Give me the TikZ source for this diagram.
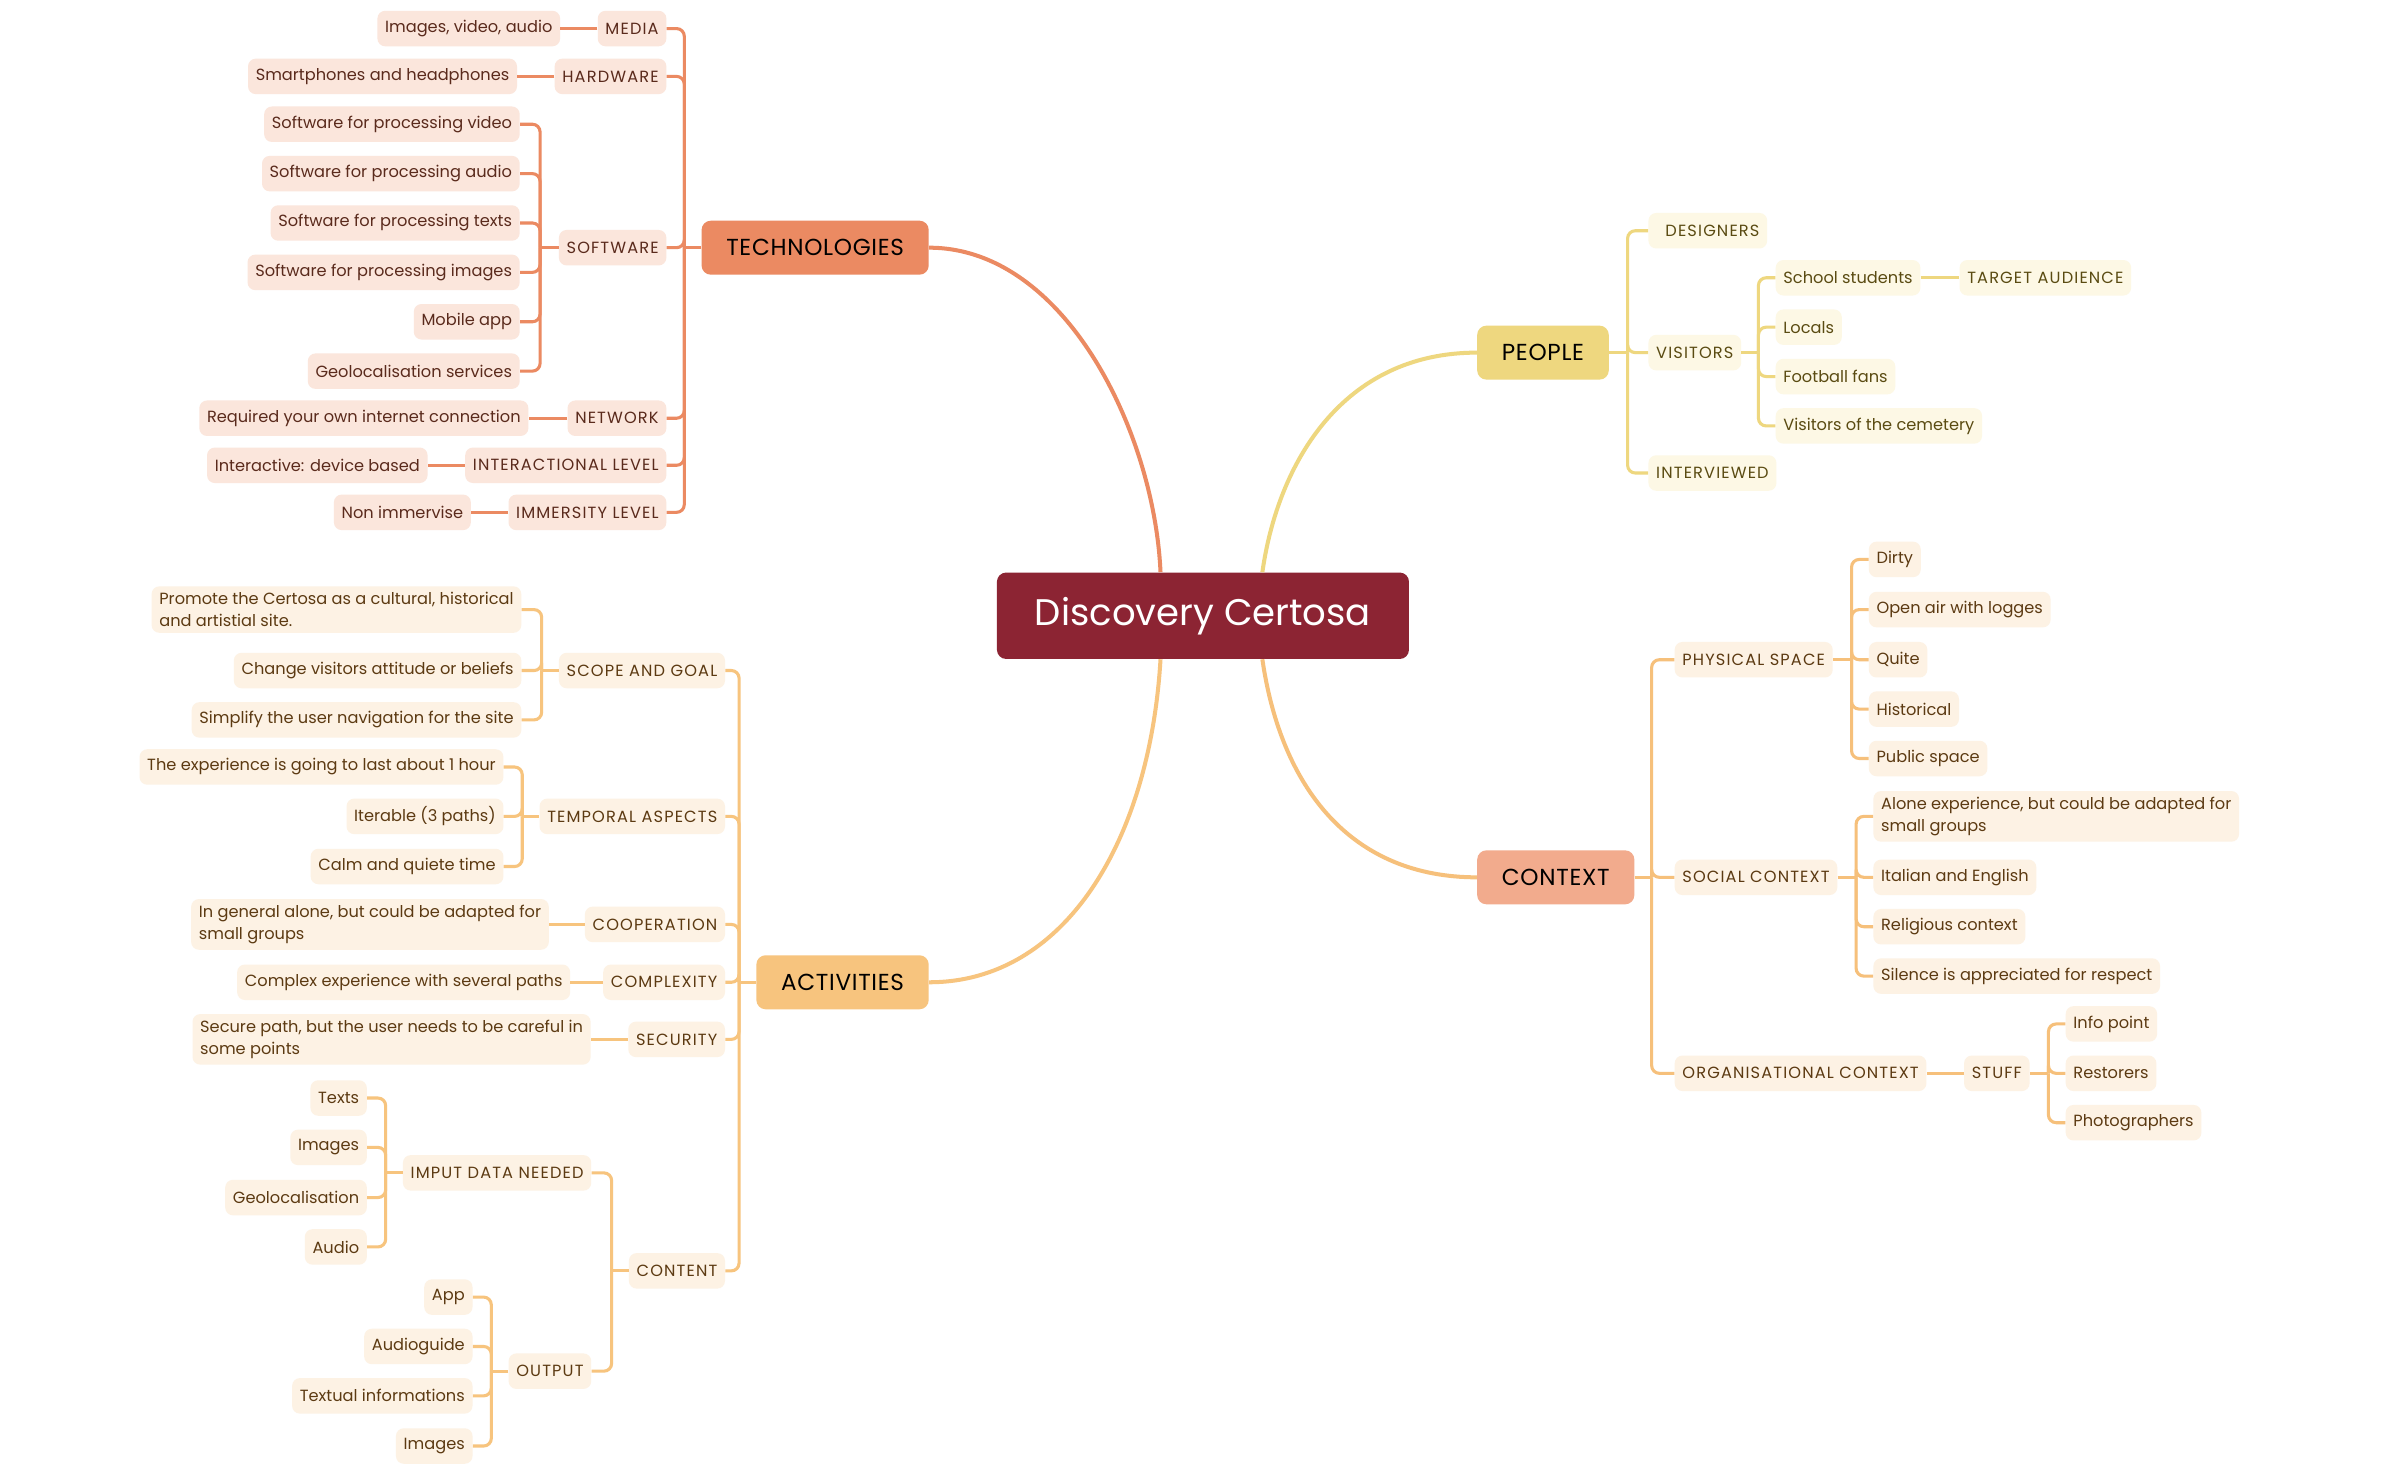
\documentclass[tikz,border=0pt]{standalone}
\usepackage{fontspec}
\setmainfont{Poppins}
\newfontfamily\capfont[LetterSpace=7]{Poppins}
\newfontfamily\labelfont[LetterSpace=3]{Poppins}
\usetikzlibrary{positioning}
\definecolor{centerc}{HTML}{8C2433}
\definecolor{techc}{HTML}{EB8A62}
\definecolor{techbg}{HTML}{FBE6DC}
\definecolor{techtx}{HTML}{5A2A1C}
\definecolor{peoplec}{HTML}{EED77F}
\definecolor{peoplebg}{HTML}{FDF8E5}
\definecolor{peopletx}{HTML}{5A4B12}
\definecolor{contextc}{HTML}{F2AB8D}
\definecolor{ctxline}{HTML}{F6C07B}
\definecolor{ctxbg}{HTML}{FDF2E4}
\definecolor{ctxtx}{HTML}{5C3A12}
\definecolor{actc}{HTML}{F7C47E}

\begin{document}
\begin{tikzpicture}[x=1pt,y=-1pt,
  box/.style={rounded corners=5pt, inner xsep=5pt, inner ysep=0pt, minimum height=23pt, align=left, font=\fontsize{10.5}{14}\selectfont},
  capstext/.style={font=\capfont\fontsize{10.5}{14}\selectfont},
  twoline/.style={inner ysep=4pt},
  main/.style={rounded corners=6pt, inner xsep=16pt, minimum height=35pt, font=\labelfont\fontsize{15}{18}\selectfont},
  tbox/.style={box, fill=techbg, text=techtx},
  pbox/.style={box, fill=peoplebg, text=peopletx},
  cbox/.style={box, fill=ctxbg, text=ctxtx},
  tcat/.style={tbox, capstext},
  pcat/.style={pbox, capstext},
  ccat/.style={cbox, capstext},
  tline/.style={draw=techc, line width=2pt, rounded corners=5pt},
  pline/.style={draw=peoplec, line width=2pt, rounded corners=5pt},
  cline/.style={draw=ctxline, line width=2pt, rounded corners=5pt},
  aline/.style={draw=actc, line width=2pt, rounded corners=5pt},
  curve/.style={line width=2.6pt}]
\fill[white] (0,0) rectangle (1550,955.2);
\useasboundingbox (0,0) rectangle (1550,955.2);

\node[fill=centerc, text=white, rounded corners=6pt, minimum width=267pt, minimum height=56pt, font=\fontsize{24}{28}\selectfont] (dc) at (779.5,399) {Discovery Certosa};
\node[main, fill=techc, anchor=east] (tech) at (602,160.5) {TECHNOLOGIES};
\node[main, fill=peoplec, anchor=west] (people) at (957,228.5) {PEOPLE};
\node[main, fill=contextc, anchor=west] (context) at (957,568.5) {CONTEXT};
\node[main, fill=actc, anchor=east] (activities) at (602,636.5) {ACTIVITIES};

\draw[techc, curve] (tech.east) .. controls (690,160.5) and (748,280) .. ([xshift=-27.5pt]dc.north);
\draw[peoplec, curve] ([xshift=38.5pt]dc.north) .. controls (828,300) and (870,228.5) .. (people.west);
\draw[ctxline, curve] ([xshift=38.5pt]dc.south) .. controls (830,510) and (875,568.5) .. (context.west);
\draw[actc, curve] ([xshift=-27.5pt]dc.south) .. controls (745,545) and (690,636.5) .. (activities.east);

% technologies
\node[tcat, anchor=east] (media) at (432,18.5) {MEDIA};
\node[tcat, anchor=east] (hardware) at (432,49.5) {HARDWARE};
\node[tcat, anchor=east] (software) at (432,160.5) {SOFTWARE};
\node[tcat, anchor=east] (network) at (432,271) {NETWORK};
\node[tcat, anchor=east] (interaction) at (432,301.5) {INTERACTIONAL LEVEL};
\node[tcat, anchor=east] (immersity) at (432,332) {IMMERSITY LEVEL};
\node[tbox, left=24pt of media] (media1) {Images, video, audio};
\node[tbox, left=24pt of hardware] (hardware1) {Smartphones and headphones};
\foreach \t/\d [count=\i] in {Software for processing video/80, Software for processing audio/48, Software for processing texts/16, Software for processing images/-16, Mobile app/-48, Geolocalisation services/-80}
  \node[tbox, left=25pt of software, yshift=\d pt] (soft\i) {\t};
\node[tbox, left=25pt of network] (network1) {Required your own internet connection};
\node[tbox, left=24pt of interaction] (interaction1) {Interactive: device based};
\node[tbox, left=24pt of immersity] (immersity1) {Non immervise};

\draw[tline] (tech.west) -- ++(-11,0) coordinate (ttrunk);
\foreach \n in {media,hardware,software,network,interaction,immersity}
  \draw[tline] (\n.east) -| (ttrunk);
\draw[tline] (software.west) -- ++(-12,0) coordinate (strunk);
\foreach \i in {1,...,6}
  \draw[tline] (soft\i.east) -| (strunk);
\foreach \n in {media,hardware,network,interaction,immersity}
  \draw[tline] (\n.west) -- (\n1.east);

% people
\node[pcat, anchor=west] (designers) at (1068,149.5) {\hspace*{6pt}DESIGNERS};
\node[pcat, anchor=west] (visitors) at (1068,228.5) {VISITORS};
\node[pcat, anchor=west] (interviewed) at (1068,306.5) {INTERVIEWED};
\foreach \t/\d [count=\i] in {School students/48.5, Locals/16.5, Football fans/-15.5, Visitors of the cemetery/-47.5}
  \node[pbox, right=22pt of visitors, yshift=\d pt] (visitor\i) {\t};
\node[pcat, right=25pt of visitor1] (target) {TARGET AUDIENCE};

\draw[pline] (people.east) -- ++(12,0) coordinate (ptrunk);
\foreach \n in {designers,visitors,interviewed}
  \draw[pline] (\n.west) -| (ptrunk);
\draw[pline] (visitors.east) -- ++(11,0) coordinate (vtrunk);
\foreach \i in {1,...,4}
  \draw[pline] (visitor\i.west) -| (vtrunk);
\draw[pline] (visitor1.east) -- (target.west);

% context
\node[ccat, anchor=west] (physical) at (1085,427.5) {PHYSICAL SPACE};
\node[ccat, anchor=west] (social) at (1085,568.5) {SOCIAL CONTEXT};
\node[ccat, anchor=west] (organisation) at (1085,695.5) {ORGANISATIONAL CONTEXT};
\foreach \t/\d [count=\i] in {Dirty/65, Open air with logges/32.5, Quite/0, Historical/-32, Public space/-64}
  \node[cbox, right=23pt of physical, yshift=\d pt] (physical\i) {\t};
\node[cbox, twoline, right=23pt of social, yshift=39.5pt] (social1) {Alone experience, but could be adapted for\\small groups};
\foreach \t/\d [count=\i from 2] in {Italian and English/0, Religious context/-32, Silence is appreciated for respect/-64}
  \node[cbox, right=23pt of social, yshift=\d pt] (social\i) {\t};
\node[ccat, right=24pt of organisation] (stuff) {STUFF};
\foreach \t/\d [count=\i] in {Info point/32, Restorers/0, Photographers/-32}
  \node[cbox, right=23pt of stuff, yshift=\d pt] (stuff\i) {\t};

\draw[cline] (context.east) -- ++(11,0) coordinate (ctrunk);
\foreach \n in {physical,social,organisation}
  \draw[cline] (\n.west) -| (ctrunk);
\draw[cline] (physical.east) -- ++(12,0) coordinate (phtrunk);
\foreach \i in {1,...,5}
  \draw[cline] (physical\i.west) -| (phtrunk);
\draw[cline] (social.east) -- ++(12,0) coordinate (sotrunk);
\foreach \i in {1,...,4}
  \draw[cline] (social\i.west) -| (sotrunk);
\draw[cline] (organisation.east) -- (stuff.west);
\draw[cline] (stuff.east) -- ++(12,0) coordinate (sttrunk);
\foreach \i in {1,2,3}
  \draw[cline] (stuff\i.west) -| (sttrunk);

% activities
\node[ccat, anchor=east] (scope) at (470,434.5) {SCOPE AND GOAL};
\node[ccat, anchor=east] (temporal) at (470,529) {TEMPORAL ASPECTS};
\node[ccat, anchor=east] (cooperation) at (470,599) {COOPERATION};
\node[ccat, anchor=east] (complexity) at (470,636.5) {COMPLEXITY};
\node[ccat, anchor=east] (security) at (470,673.5) {SECURITY};
\node[ccat, anchor=east] (content) at (470,823.5) {CONTENT};
\node[cbox, twoline, left=24pt of scope, yshift=39.5pt] (scope1) {Promote the Certosa as a cultural, historical\\and artistial site.};
\node[cbox, left=24pt of scope] (scope2) {Change visitors attitude or beliefs};
\node[cbox, left=24pt of scope, yshift=-32pt] (scope3) {Simplify the user navigation for the site};
\foreach \t/\d [count=\i] in {The experience is going to last about 1 hour/32, Iterable (3 paths)/0, Calm and quiete time/-32.5}
  \node[cbox, left=23pt of temporal, yshift=\d pt] (temporal\i) {\t};
\node[cbox, twoline, left=23pt of cooperation] (cooperation1) {In general alone, but could be adapted for\\small groups};
\node[cbox, left=21pt of complexity] (complexity1) {Complex experience with several paths};
\node[cbox, twoline, left=24pt of security] (security1) {Secure path, but the user needs to be careful in\\some points};
\node[ccat, left=24pt of content, yshift=63.5pt] (imput) {IMPUT DATA NEEDED};
\node[ccat, left=24pt of content, yshift=-65pt] (output) {OUTPUT};
\foreach \t/\d [count=\i] in {Texts/48.5, Images/16.5, Geolocalisation/-16, Audio/-48}
  \node[cbox, left=23pt of imput, yshift=\d pt] (imput\i) {\t};
\foreach \t/\d [count=\i] in {App/48, Audioguide/16, Textual informations/-16, Images/-48.5}
  \node[cbox, left=23pt of output, yshift=\d pt] (output\i) {\t};

\draw[aline] (activities.west) -- ++(-11,0) coordinate (atrunk);
\foreach \n in {scope,temporal,cooperation,complexity,security,content}
  \draw[aline] (\n.east) -| (atrunk);
\draw[aline] (scope.west) -- ++(-11,0) coordinate (sctrunk);
\foreach \i in {1,2,3}
  \draw[aline] (scope\i.east) -| (sctrunk);
\draw[aline] (temporal.west) -- ++(-11,0) coordinate (tetrunk);
\foreach \i in {1,2,3}
  \draw[aline] (temporal\i.east) -| (tetrunk);
\foreach \n in {cooperation,complexity,security}
  \draw[aline] (\n.west) -- (\n1.east);
\draw[aline] (content.west) -- ++(-11,0) coordinate (cotrunk);
\foreach \n in {imput,output}
  \draw[aline] (\n.east) -| (cotrunk);
\draw[aline] (imput.west) -- ++(-11,0) coordinate (imtrunk);
\foreach \i in {1,...,4}
  \draw[aline] (imput\i.east) -| (imtrunk);
\draw[aline] (output.west) -- ++(-11,0) coordinate (outrunk);
\foreach \i in {1,...,4}
  \draw[aline] (output\i.east) -| (outrunk);
\end{tikzpicture}
\end{document}
